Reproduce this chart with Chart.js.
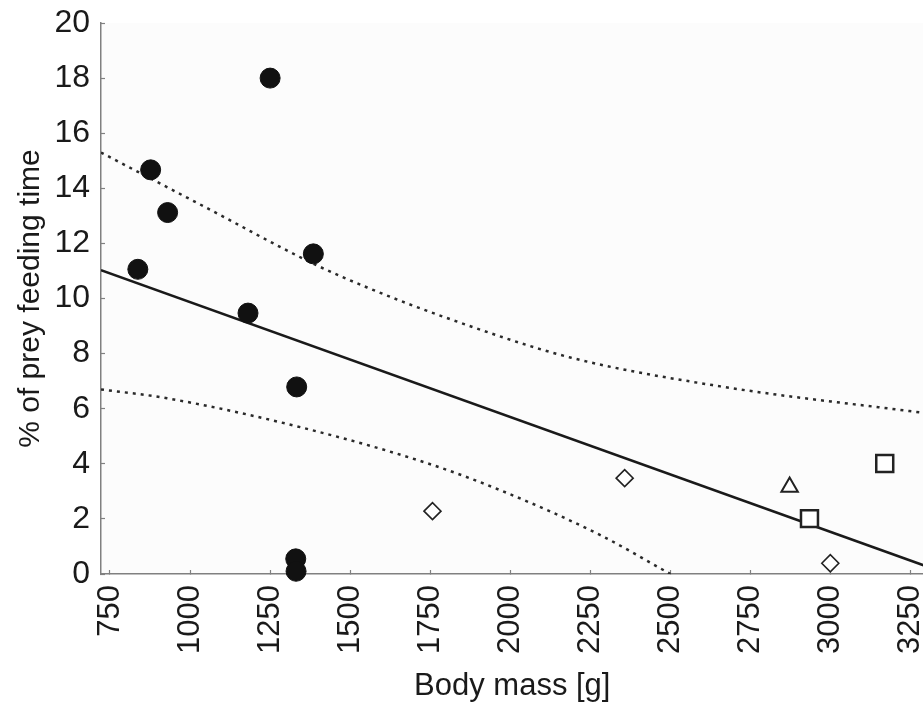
<!DOCTYPE html>
<html>
<head>
<meta charset="utf-8">
<script src="https://cdn.jsdelivr.net/npm/chart.js@4.4.0/dist/chart.umd.min.js"></script>
<style>
  html, body { margin: 0; padding: 0; background: #fff; overflow: hidden; width: 923px; height: 702px; }
  /* o canvas passa um pouco da janela para o eixo x ir ate a borda */
  #wrap { position: relative; width: 938px; height: 702px; }
  #grafico { display: block; }
</style>
</head>
<body>
<div id="wrap"><canvas id="grafico"></canvas></div>
<script>
// tick labels
const xTicks = [750, 1000, 1250, 1500, 1750, 2000, 2250, 2500, 2750, 3000, 3250];
const yTicks = [0, 2, 4, 6, 8, 10, 12, 14, 16, 18, 20];

// filled circles
const circleMass = [837, 877, 930, 1250, 1385, 1181, 1333, 1330, 1331];
const circlePct = [11.06, 14.67, 13.12, 18.0, 11.62, 9.47, 6.79, 0.55, 0.1];
// open diamonds
const diamondMass = [1757, 2357, 2999];
const diamondPct = [2.28, 3.48, 0.39];
// open triangle
const triangleMass = [2872];
const trianglePct = [3.16];
// open squares
const squareMass = [2934, 3169];
const squarePct = [2.01, 4.01];

// regression line and confidence band
const fitMass = [722, 3290];
const fitPct = [11.03, 0.32];
const upperMass = [722, 1050, 1384, 1553, 1812, 2187, 2656, 3290];
const upperPct = [15.3, 13.3, 11.27, 10.4, 9.25, 7.86, 6.81, 5.85];
const lowerMass = [722, 928, 1344, 1741, 1969, 2281, 2500];
const lowerPct = [6.7, 6.38, 5.33, 4.02, 3.04, 1.41, 0];

function pares(xs, ys) {
    return xs.map(function (x, i) { return { x: x, y: ys[i] }; });
}

const corTexto = '#1a1a1a';
const corEixo = '#808080';
const fonte = 'Liberation Sans, Arial, sans-serif';

// fundo levemente cinza da area do grafico
const fundoArea = {
    id: 'fundoArea',
    beforeDraw(chart) {
        const a = chart.chartArea;
        const ctx = chart.ctx;
        ctx.save();
        ctx.fillStyle = '#fcfcfc';
        ctx.fillRect(a.left, a.top, a.right - a.left, a.bottom - a.top);
        ctx.restore();
    }
};

new Chart(document.getElementById('grafico'), {
    type: 'scatter',
    data: {
        datasets: [
            {
                data: pares(circleMass, circlePct),
                pointStyle: 'circle', pointRadius: 10,
                backgroundColor: '#111', borderColor: '#111', borderWidth: 1,
                clip: false, order: 1
            },
            {
                data: pares(diamondMass, diamondPct),
                pointStyle: 'rectRot', pointRadius: 8.5,
                backgroundColor: '#fff', borderColor: '#222', borderWidth: 1.6,
                clip: false, order: 1
            },
            {
                data: pares(triangleMass, trianglePct),
                pointStyle: 'triangle', pointRadius: 9.5,
                backgroundColor: '#fff', borderColor: '#222', borderWidth: 2,
                clip: false, order: 1
            },
            {
                data: pares(squareMass, squarePct),
                pointStyle: 'rect', pointRadius: 12,
                backgroundColor: '#fff', borderColor: '#222', borderWidth: 2.5,
                clip: false, order: 1
            },
            {
                data: pares(fitMass, fitPct),
                showLine: true, pointRadius: 0,
                borderColor: '#1a1a1a', borderWidth: 2.6,
                order: 2
            },
            {
                data: pares(upperMass, upperPct),
                showLine: true, pointRadius: 0, cubicInterpolationMode: 'monotone',
                borderColor: '#2a2a2a', borderWidth: 2.5, borderDash: [3, 5],
                order: 2
            },
            {
                data: pares(lowerMass, lowerPct),
                showLine: true, pointRadius: 0, cubicInterpolationMode: 'monotone',
                borderColor: '#2a2a2a', borderWidth: 2.5, borderDash: [3, 5],
                order: 2
            }
        ]
    },
    options: {
        responsive: true,
        maintainAspectRatio: false,
        animation: false,
        events: [],
        layout: { padding: { top: 23, left: 0, right: 0, bottom: 0 } },
        plugins: {
            legend: { display: false },
            tooltip: { enabled: false }
        },
        scales: {
            x: {
                type: 'linear',
                min: 722,
                max: 3290,
                afterBuildTicks(s) { s.ticks = xTicks.map(function (v) { return { value: v }; }); },
                afterFit(s) { s.height = 128; s.paddingLeft = 0; s.paddingRight = 0; },
                grid: { drawOnChartArea: false, tickLength: -4, color: corEixo, tickWidth: 1.2 },
                border: { color: corEixo, width: 1.5 },
                ticks: {
                    autoSkip: false, minRotation: 90, maxRotation: 90, padding: 15,
                    color: corTexto,
                    font: { family: fonte, size: 31 },
                    callback: function (v) { return String(v); }
                },
                title: {
                    display: true, text: 'Body mass [g]', color: corTexto,
                    padding: { top: 0, bottom: 0 },
                    font: { family: fonte, size: 31, lineHeight: 1 }
                }
            },
            y: {
                min: 0,
                max: 20,
                afterBuildTicks(s) { s.ticks = yTicks.map(function (v) { return { value: v }; }); },
                afterFit(s) { s.width = 101; s.paddingTop = 0; s.paddingBottom = 0; },
                grid: { drawOnChartArea: false, tickLength: -4, color: corEixo, tickWidth: 1.2 },
                border: { color: corEixo, width: 1.5 },
                ticks: {
                    padding: 15, color: corTexto,
                    font: { family: fonte, size: 32 },
                    callback: function (v) { return String(v); }
                },
                title: {
                    display: true, text: '% of prey feeding time', color: corTexto,
                    padding: { top: 16, bottom: 0 },
                    font: { family: fonte, size: 30, lineHeight: 1 }
                }
            }
        }
    },
    plugins: [fundoArea]
});
</script>
</body>
</html>
